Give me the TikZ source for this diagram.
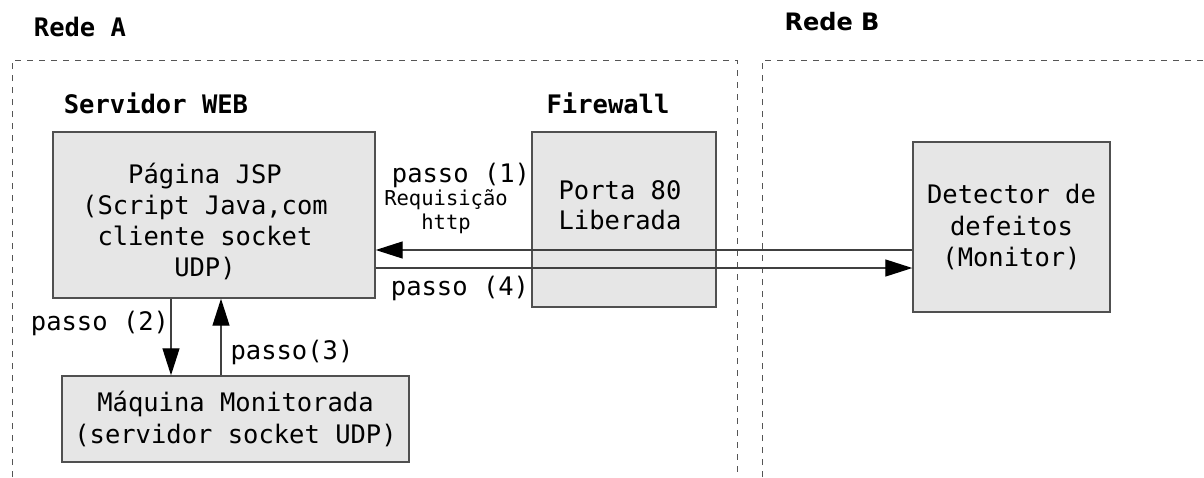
\documentclass[tikz,border=0pt]{standalone}
\usepackage{fontspec}
\setmonofont{DejaVu Sans Mono}
\newfontfamily\djbold{DejaVu Sans}
\usetikzlibrary{arrows.meta,calc}
\definecolor{boxfill}{HTML}{E6E6E6}
\definecolor{boxline}{HTML}{505050}
\definecolor{lineclr}{HTML}{404040}
\definecolor{dashclr}{HTML}{555555}
\tikzset{
  box/.style={draw=boxline,fill=boxfill,line width=1.4pt,inner sep=0pt,
    font=\ttfamily\fontsize{25.5}{31.5}\selectfont,align=center},
  lbl/.style={inner sep=0pt,font=\ttfamily\fontsize{25.5}{31}\selectfont,align=center},
  small/.style={inner sep=0pt,font=\ttfamily\fontsize{20.5}{24}\selectfont,align=center},
  title/.style={inner sep=0pt,font=\ttfamily\bfseries\fontsize{25.5}{30}\selectfont},
  arr/.style={draw=lineclr,line width=1.3pt,-{Triangle[length=27pt,width=17pt,color=black]}},
  net/.style={draw=dashclr,line width=1pt,dash pattern=on 6pt off 6pt}
}
\begin{document}
\begin{tikzpicture}[x=1pt,y=-1pt]
\useasboundingbox (0,0) rectangle (1204,477);
% network boundaries
\coordinate (a1) at (12,477);
\coordinate (a2) at (12,60);
\coordinate (a3) at (737,60);
\coordinate (a4) at (737,477);
\coordinate (b1) at (762,477);
\coordinate (b2) at (762,60);
\coordinate (b3) at (1204,60);
\draw[net] (a1) -- (a2) -- (a3) -- (a4);
\draw[net] (b1) -- (b2) -- (b3);
% titles
\node[title] (redeA) at (80,27) {Rede A};
\node[inner sep=0pt,font=\djbold\bfseries\fontsize{24}{28}\selectfont] (redeB) at (832,22) {Rede B};
\node[title] (serv) at (156,103) {Servidor WEB};
\node[title] (fw) at (608,103) {Firewall};
% boxes
\node[box,minimum width=322pt,minimum height=166pt] (jsp) at (214,215) {};
\node[lbl,font=\ttfamily\fontsize{25.5}{31}\selectfont] (jspt) at (205,221)
  {Página JSP\\(Script Java,com\\cliente socket\\UDP)};
\node[box,minimum width=184pt,minimum height=175pt] (porta) at (624,219.5) {};
\node[lbl,font=\ttfamily\fontsize{25.5}{30}\selectfont] (portat) at (620,205)
  {Porta 80\\Liberada};
\node[box,minimum width=197pt,minimum height=170pt] (det) at (1011.5,227)
  {Detector de\\defeitos\\(Monitor)};
\node[box,minimum width=347pt,minimum height=86pt] (maq) at (235.5,419)
  {Máquina Monitorada\\(servidor socket UDP)};
% connectors
\draw[arr] ([yshift=-23pt]det.west) -- ([yshift=-23pt]det.west -| jsp.east);
\draw[arr] ([yshift=-53pt]jsp.east) -- ([yshift=-53pt]jsp.east -| det.west);
\draw[arr] ([xshift=-43pt]jsp.south) -- ([xshift=-43pt]jsp.south |- maq.north);
\draw[arr] ([xshift=7pt]jsp.south |- maq.north) -- ([xshift=7pt]jsp.south);
% labels
\node[lbl] (p1) at (461,175) {passo (1)};
\node[small] (req) at (446,212) {Requisição\\http};
\node[lbl] (p4) at (460,288) {passo (4)};
\node[lbl] (p2) at (100,323) {passo (2)};
\node[lbl] (p3) at (292,352) {passo(3)};
\end{tikzpicture}
\end{document}
